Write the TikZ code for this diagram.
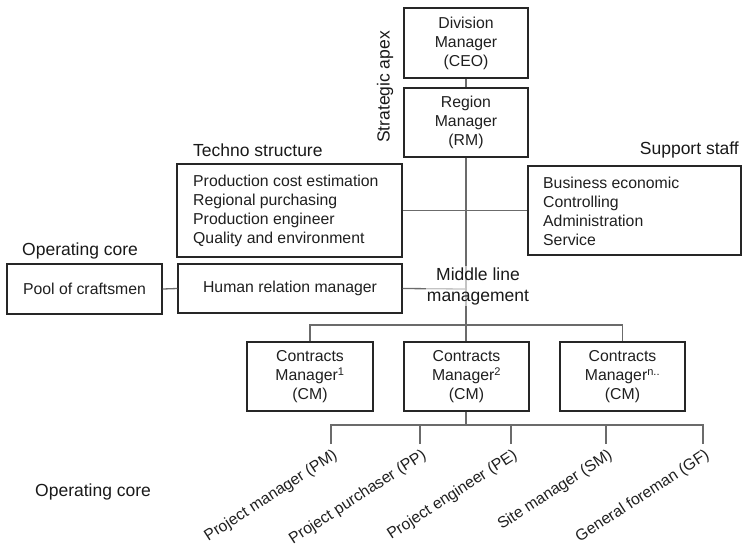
\documentclass[tikz,border=0pt]{standalone}
\usepackage{fontspec}
\setmainfont{Liberation Sans}
\usetikzlibrary{calc}
\begin{document}
\begin{tikzpicture}[x=1pt,y=-1pt,
  boxtext/.style={font=\fontsize{15.8}{19}\selectfont, text=black!88},
  labeltext/.style={font=\fontsize{17.5}{21}\selectfont, text=black!90},
  orgbox/.style={boxtext, draw=black!85, line width=1.3pt, align=center, inner sep=0pt},
  link/.style={draw=black!58, line width=1.3pt},
  rolelabel/.style={font=\fontsize{15.8}{19}\selectfont, text=black!88, rotate=33, anchor=east, inner sep=0pt}
]
\useasboundingbox (0,0) rectangle (743,549);

% strategic apex
\node[orgbox, minimum width=124pt, minimum height=70pt] (dm) at (466,43) {Division\\Manager\\(CEO)};
\node[orgbox, minimum width=124pt, minimum height=69pt] (rm) at (466,122.5) {Region\\Manager\\(RM)};
\node[labeltext, rotate=90] (apex) at (385,87) {Strategic apex};

% techno structure and support staff
\node[boxtext, draw=black!85, line width=1.3pt, minimum width=225pt, minimum height=93pt] (techno) at (289.5,210.5) {};
\node[boxtext, align=left, anchor=west, inner sep=0pt] (technotxt) at (193,211) {Production cost estimation\\Regional purchasing\\Production engineer\\Quality and environment};
\node[labeltext, anchor=west, inner sep=0pt] (technolbl) at (193,150) {Techno structure};

\node[boxtext, draw=black!85, line width=1.3pt, minimum width=213pt, minimum height=89pt] (support) at (634.5,210.5) {};
\node[boxtext, align=left, anchor=west, inner sep=0pt] (supporttxt) at (543,211) {Business economic\\Controlling\\Administration\\Service};
\node[labeltext, anchor=east, inner sep=0pt] (supportlbl) at (739,150) {Support staff};

% operating core (upper) and human relations
\node[orgbox, minimum width=155pt, minimum height=50pt] (pool) at (84.5,289) {Pool of craftsmen};
\node[orgbox, minimum width=224pt, minimum height=49pt] (hrm) at (290,288.5) {Human relation manager};
\node[labeltext, anchor=west, inner sep=0pt] (opcore1) at (22,251) {Operating core};

% contracts managers
\node[orgbox, minimum width=126pt, minimum height=69pt] (cm1) at (310,376.5) {Contracts\\Manager\textsuperscript{1}\\(CM)};
\node[orgbox, minimum width=125pt, minimum height=69pt] (cm2) at (466.5,376.5) {Contracts\\Manager\textsuperscript{2}\\(CM)};
\node[orgbox, minimum width=125pt, minimum height=69pt] (cm3) at (622.5,376.5) {Contracts\\Manager\textsuperscript{n..}\\(CM)};

% junction points
\coordinate (spineHR) at (466,289);
\coordinate (busTop) at (466,325);
\coordinate (busLow) at (466,425);
\coordinate (d1) at (331,444);
\coordinate (d2) at (420,444);
\coordinate (d3) at (511,444);
\coordinate (d4) at (606,444);
\coordinate (d5) at (703,444);

% connectors
\draw[link] (dm.south) -- (rm.north);
\draw[link] (rm.south) -- (busTop);
\draw[link] (busTop) -- (cm2.north -| busTop);
\draw[link] (techno.east) -- (support.west);
\draw[link] (pool.east) -- (hrm.west);
\draw[link] (hrm.east) -- (spineHR);
\draw[link] (cm1.north) |- (busTop) -| (cm3.north);
\draw[link] (cm2.south -| busLow) -- (busLow);
\draw[link] (d1) |- (busLow) -| (d5);
\draw[link] (d2) -- (d2 |- busLow);
\draw[link] (d3) -- (d3 |- busLow);
\draw[link] (d4) -- (d4 |- busLow);

% middle line label sits over the spine
\node[labeltext, align=center, fill=white, fill opacity=0.6, text opacity=1, inner sep=1pt] (middle) at (478,286) {Middle line\\management};

% operating core roles
\node[rolelabel] (pm) at ($(d1)+(5,10)$) {Project manager (PM)};
\node[rolelabel] (pp) at ($(d2)+(5,10)$) {Project purchaser (PP)};
\node[rolelabel] (pe) at ($(d3)+(5,10)$) {Project engineer (PE)};
\node[rolelabel] (sm) at ($(d4)+(5,10)$) {Site manager (SM)};
\node[rolelabel] (gf) at ($(d5)+(5,10)$) {General foreman (GF)};
\node[labeltext, anchor=west, inner sep=0pt] (opcore2) at (35,492) {Operating core};
\end{tikzpicture}
\end{document}
